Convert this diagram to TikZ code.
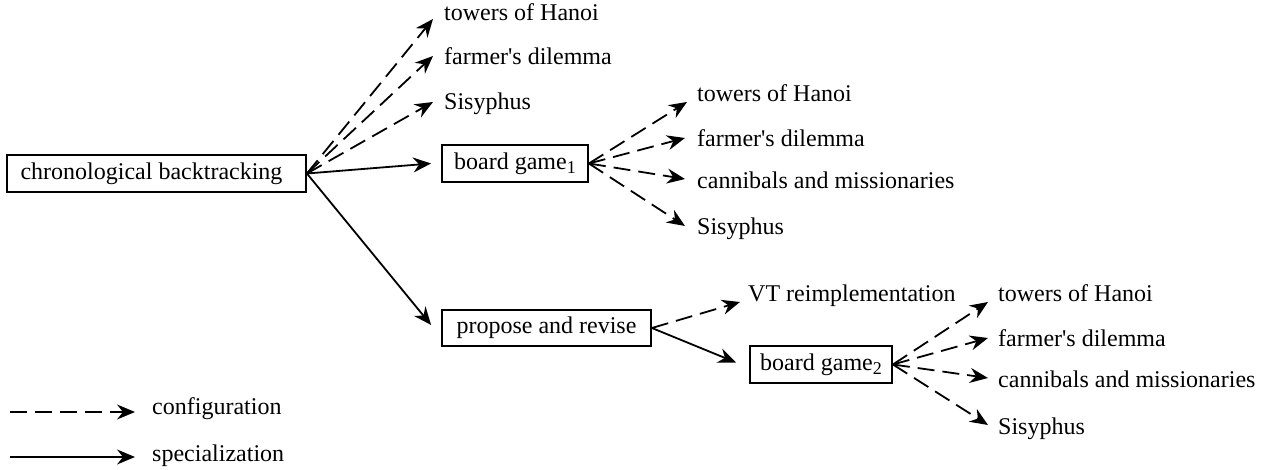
\documentclass[tikz,border=0pt]{standalone}
\usepackage{fontspec}
\setmainfont{Liberation Serif}
\usetikzlibrary{arrows.meta}
% subscript index as set in the labels of the board game nodes
\newcommand{\idx}[1]{\raisebox{-4pt}{\fontsize{18}{18}\selectfont #1}}
\begin{document}
\begin{tikzpicture}[x=1pt,y=-1pt,
  lbl/.style={font=\fontsize{24}{28}\selectfont, inner sep=0pt, anchor=base west},
  box/.style={draw, line width=1.8pt, inner sep=0pt, font=\fontsize{24}{28}\selectfont},
  link/.style={line width=1.8pt, -{Stealth[length=18pt,width=15pt,inset=6pt]}},
  spec/.style={link},
  conf/.style={link, dash pattern=on 17pt off 8pt}]
\useasboundingbox (0,0) rectangle (1278,470);

% boxed nodes
\node[box, minimum width=299pt, minimum height=37pt] (cb) at (156.5,173.5) {chronological backtracking\hspace*{10pt}};
\node[box, minimum width=146pt, minimum height=37pt] (bg1) at (515,163.5) {board game\idx{1}};
\node[box, minimum width=209pt, minimum height=36pt] (pr) at (546.5,328) {propose and revise};
\node[box, minimum width=142pt, minimum height=37pt] (bg2) at (821,364.5) {board game\idx{2}};

% configurations of chronological backtracking
\node[lbl] (a1) at (444,21) {towers of Hanoi};
\node[lbl] (a2) at (444,65) {farmer\textquotesingle s dilemma};
\node[lbl] (a3) at (444,110) {Sisyphus};

% configurations of board game 1
\node[lbl] (b1) at (697,102) {towers of Hanoi};
\node[lbl] (b2) at (697,147) {farmer\textquotesingle s dilemma};
\node[lbl] (b3) at (697,189) {cannibals and missionaries};
\node[lbl] (b4) at (697,235) {Sisyphus};

% configuration of propose and revise
\node[lbl] (vt) at (748,302) {VT reimplementation};

% configurations of board game 2
\node[lbl] (c1) at (998,302) {towers of Hanoi};
\node[lbl] (c2) at (998,347) {farmer\textquotesingle s dilemma};
\node[lbl] (c3) at (998,388) {cannibals and missionaries};
\node[lbl] (c4) at (998,435) {Sisyphus};

% legend
\coordinate (l1a) at (10,412);
\coordinate (l1b) at (135,412);
\coordinate (l2a) at (10,457);
\coordinate (l2b) at (135,457);
\node[lbl] (l1) at (152,415) {configuration};
\node[lbl] (l2) at (152,461) {specialization};

% connectors
\draw[conf] (cb.east) -- ([xshift=-11pt,yshift=2pt]a1.base west);
\draw[conf] (cb.east) -- ([xshift=-11pt,yshift=9pt]a2.base west);
\draw[conf] (cb.east) -- ([xshift=-11pt,yshift=8pt]a3.base west);
\draw[spec] (cb.east) -- ([xshift=-10pt]bg1.west);
\draw[spec] (cb.east) -- ([xshift=-10pt,yshift=3pt]pr.west);

\draw[conf] (bg1.east) -- ([xshift=-10pt]b1.base west);
\draw[conf] (bg1.east) -- ([xshift=-12pt,yshift=9pt]b2.base west);
\draw[conf] (bg1.east) -- ([xshift=-12pt,yshift=10pt]b3.base west);
\draw[conf] (bg1.east) -- ([xshift=-12pt,yshift=9pt]b4.base west);

\draw[conf] (pr.east) -- ([xshift=-8pt]vt.base west);
\draw[spec] (pr.east) -- ([xshift=-13pt,yshift=2pt]bg2.west);

\draw[conf] (bg2.east) -- ([xshift=-10pt]c1.base west);
\draw[conf] (bg2.east) -- ([xshift=-10pt,yshift=9pt]c2.base west);
\draw[conf] (bg2.east) -- ([xshift=-10pt,yshift=10pt]c3.base west);
\draw[conf] (bg2.east) -- ([xshift=-10pt,yshift=10pt]c4.base west);

\draw[conf] (l1a) -- (l1b);
\draw[spec] (l2a) -- (l2b);
\end{tikzpicture}
\end{document}
